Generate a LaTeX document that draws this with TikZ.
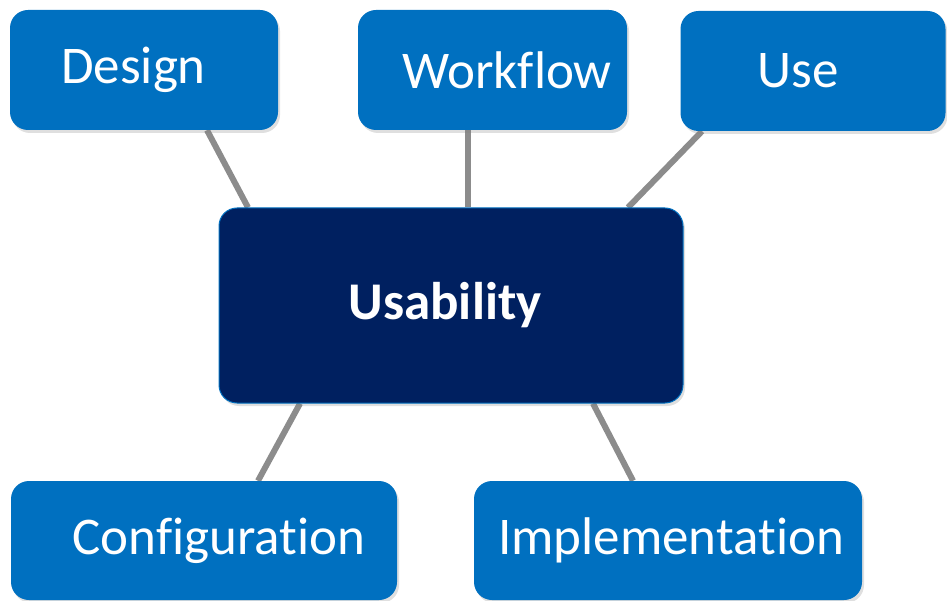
\documentclass[tikz,border=0pt]{standalone}
\usepackage{fontspec}
\setmainfont{Carlito}[Ligatures={NoCommon}]
\usetikzlibrary{backgrounds,shadows}
\definecolor{boxblue}{HTML}{0070C0}
\definecolor{boxnavy}{HTML}{002060}
\definecolor{linkgray}{HTML}{8C8C8C}
% text a little off the box centre, as in the slide
\newcommand{\offtext}[2]{\raisebox{-4pt}{\makebox[0pt]{\hspace*{#1}#2}}}
\tikzset{
	topic/.style={fill=boxblue, rounded corners=18pt, text=white, inner sep=0pt,
		font=\fontsize{53}{60}\selectfont,
		drop shadow={shadow xshift=2pt, shadow yshift=-3pt, opacity=.25}},
	core/.style={topic, fill=boxnavy, draw=boxblue, line width=1pt,
		font=\fontsize{53}{60}\selectfont\bfseries},
	link/.style={linkgray, line width=6pt}
}
\begin{document}
\begin{tikzpicture}[x=1pt,y=-1pt]
				\useasboundingbox (0,0) rectangle (947,601);
				
				\node[core, minimum width=464pt, minimum height=195pt] (usab) at (451,305.5) {\offtext{-12pt}{Usability}};
				
				\node[topic, minimum width=268pt, minimum height=120pt] (design) at (144,70) {\offtext{-21pt}{Design}};
				\node[topic, minimum width=269pt, minimum height=120pt] (workflow) at (492.5,70) {\offtext{29pt}{Workflow}};
				\node[topic, minimum width=265pt, minimum height=120pt] (use) at (813,71) {\offtext{-30pt}{Use}};
				\node[topic, minimum width=386pt, minimum height=119pt] (config) at (204,540.5) {\offtext{30pt}{Configuration}};
				\node[topic, minimum width=388pt, minimum height=119pt] (impl) at (668,540.5) {\offtext{6pt}{Implementation}};
				
				\begin{scope}[on background layer]
					\foreach \a/\da/\db in {design/63/-203, workflow/-24.5/17, use/-111/177}
					{
						\draw[link] ([xshift=\da pt]\a.south) -- ([xshift=\db pt]usab.north);
					}
					\foreach \a/\da/\db in {config/54/-151, impl/-35/142}
					{
						\draw[link] ([xshift=\da pt]\a.north) -- ([xshift=\db pt]usab.south);
					}
				\end{scope}
				
\end{tikzpicture}
\end{document}
